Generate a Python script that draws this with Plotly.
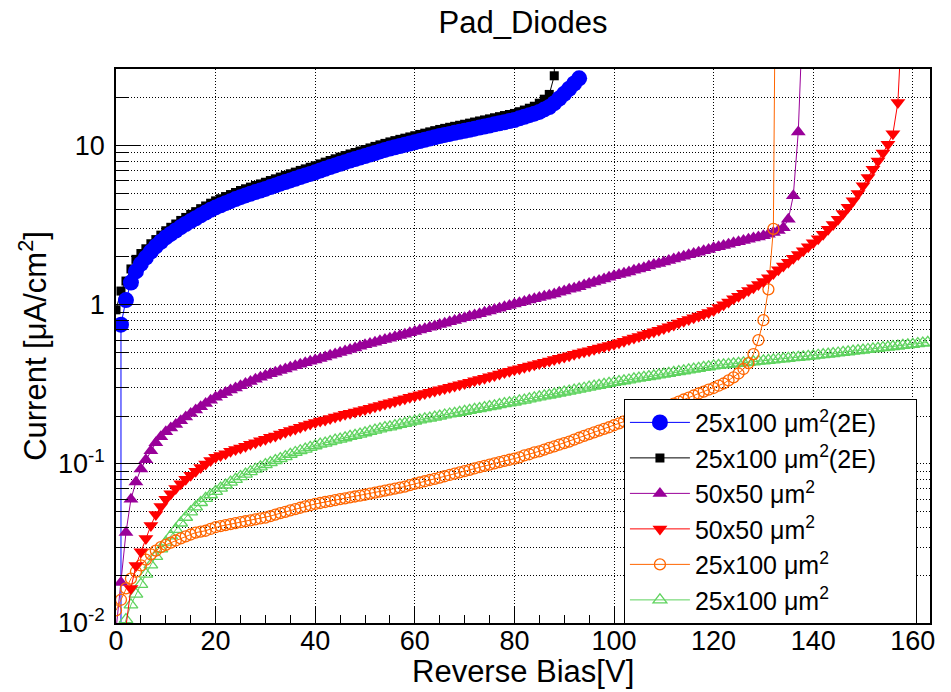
import plotly.graph_objects as go

# ---------------- data ----------------
bias_blue = [1] + list(range(1, 94))
cur_blue = [0.004,
    0.75, 1.07, 1.38, 1.62, 1.81, 1.98, 2.16, 2.33, 2.49, 2.65,
    2.79, 2.93, 3.08, 3.22, 3.36, 3.50, 3.65, 3.80, 3.95, 4.09,
    4.22, 4.35, 4.48, 4.62, 4.75, 4.87, 4.99, 5.11, 5.23, 5.35,
    5.49, 5.63, 5.77, 5.91, 6.05, 6.20, 6.35, 6.50, 6.65, 6.80,
    6.98, 7.16, 7.34, 7.52, 7.70, 7.88, 8.06, 8.24, 8.42, 8.60,
    8.80, 9.00, 9.20, 9.40, 9.60, 9.78, 9.96, 10.14, 10.32, 10.50,
    10.70, 10.90, 11.10, 11.30, 11.50, 11.68, 11.86, 12.04, 12.22, 12.40,
    12.60, 12.80, 13.00, 13.20, 13.40, 13.62, 13.84, 14.06, 14.28, 14.50,
    14.85, 15.20, 15.55, 15.90, 16.30, 16.90, 17.50, 18.50, 19.80, 21.20,
    22.80, 24.60, 26.50]

bias_black = list(range(0, 89)) + [88.3]
cur_black = [
    0.93, 1.22, 1.41, 1.68, 1.93, 2.10, 2.25, 2.42, 2.57, 2.74,
    2.92, 3.07, 3.22, 3.39, 3.54, 3.70, 3.85, 4.02, 4.18, 4.35,
    4.50, 4.64, 4.79, 4.93, 5.08, 5.23, 5.36, 5.49, 5.62, 5.75,
    5.89, 6.04, 6.19, 6.35, 6.50, 6.66, 6.82, 6.99, 7.15, 7.32,
    7.48, 7.68, 7.88, 8.07, 8.27, 8.47, 8.67, 8.87, 9.06, 9.26,
    9.46, 9.68, 9.90, 10.12, 10.34, 10.56, 10.76, 10.96, 11.15, 11.35,
    11.55, 11.77, 11.99, 12.21, 12.43, 12.65, 12.85, 13.05, 13.24, 13.44,
    13.64, 13.86, 14.08, 14.30, 14.52, 14.74, 14.98, 15.22, 15.47, 15.71,
    15.95, 16.35, 16.75, 17.20, 17.70, 18.50, 19.60, 21.00, 27.50,
    200.0]

bias_purple = list(range(0, 139))
cur_purple = [
    0.009, 0.018, 0.037, 0.060, 0.077, 0.093, 0.106, 0.121, 0.136, 0.148,
    0.159, 0.168, 0.177, 0.187, 0.197, 0.207, 0.218, 0.229, 0.240, 0.251,
    0.262, 0.272, 0.281, 0.291, 0.300, 0.310, 0.320, 0.330, 0.340, 0.350,
    0.360, 0.368, 0.377, 0.386, 0.395, 0.405, 0.414, 0.423, 0.432, 0.441,
    0.450, 0.460, 0.470, 0.481, 0.491, 0.502, 0.513, 0.524, 0.536, 0.548,
    0.560, 0.571, 0.582, 0.594, 0.605, 0.617, 0.629, 0.641, 0.654, 0.667,
    0.680, 0.694, 0.708, 0.722, 0.736, 0.751, 0.766, 0.782, 0.797, 0.813,
    0.830, 0.846, 0.863, 0.880, 0.898, 0.915, 0.934, 0.952, 0.971, 0.990,
    1.01, 1.03, 1.05, 1.07, 1.09, 1.11, 1.13, 1.15, 1.17, 1.20,
    1.22, 1.25, 1.27, 1.30, 1.33, 1.36, 1.39, 1.42, 1.45, 1.49,
    1.52, 1.55, 1.58, 1.61, 1.65, 1.68, 1.71, 1.75, 1.79, 1.82,
    1.86, 1.90, 1.94, 1.98, 2.02, 2.06, 2.10, 2.14, 2.19, 2.23,
    2.28, 2.32, 2.36, 2.40, 2.45, 2.49, 2.54, 2.58, 2.63, 2.67,
    2.72, 2.78, 2.85, 2.93, 3.05, 3.45, 4.85, 12.2, 80.0]

bias_red = list(range(2, 159))
cur_red = [
    0.0095, 0.0165, 0.023, 0.028, 0.034, 0.041, 0.048, 0.054, 0.060, 0.065,
    0.070, 0.075, 0.080, 0.085, 0.090, 0.095, 0.100, 0.105, 0.110, 0.113,
    0.116, 0.120, 0.123, 0.126, 0.129, 0.133, 0.136, 0.140, 0.143, 0.147,
    0.150, 0.154, 0.158, 0.162, 0.166, 0.170, 0.174, 0.178, 0.182, 0.186,
    0.189, 0.193, 0.197, 0.201, 0.205, 0.208, 0.212, 0.216, 0.220, 0.224,
    0.229, 0.233, 0.238, 0.242, 0.247, 0.252, 0.257, 0.262, 0.267, 0.272,
    0.277, 0.282, 0.287, 0.292, 0.298, 0.303, 0.309, 0.314, 0.320, 0.326,
    0.333, 0.339, 0.346, 0.353, 0.360, 0.367, 0.375, 0.382, 0.390, 0.397,
    0.405, 0.412, 0.420, 0.428, 0.436, 0.444, 0.453, 0.461, 0.470, 0.479,
    0.488, 0.497, 0.506, 0.515, 0.525, 0.535, 0.545, 0.555, 0.565, 0.578,
    0.591, 0.605, 0.619, 0.633, 0.648, 0.662, 0.678, 0.693, 0.710, 0.728,
    0.747, 0.767, 0.787, 0.807, 0.828, 0.850, 0.872, 0.895, 0.920, 0.96,
    1.00, 1.04, 1.09, 1.13, 1.18, 1.23, 1.28, 1.34, 1.40, 1.48,
    1.57, 1.66, 1.75, 1.85, 1.96, 2.07, 2.19, 2.32, 2.45, 2.60,
    2.78, 2.98, 3.20, 3.45, 3.75, 4.10, 4.50, 5.00, 5.60, 6.30,
    7.10, 8.00, 9.00, 10.2, 11.9, 18.7, 80.0]

bias_orange = list(range(0, 133)) + [132.5]
cur_orange = [
    0.012, 0.014, 0.0165, 0.019, 0.021, 0.023, 0.025, 0.027, 0.0285, 0.030,
    0.031, 0.032, 0.033, 0.034, 0.035, 0.036, 0.037, 0.0375, 0.038, 0.039,
    0.040, 0.0406, 0.0412, 0.0418, 0.0424, 0.043, 0.0436, 0.0442, 0.0448, 0.0454,
    0.046, 0.047, 0.048, 0.049, 0.050, 0.051, 0.052, 0.053, 0.054, 0.055,
    0.056, 0.0568, 0.0576, 0.0584, 0.0592, 0.060, 0.0608, 0.0616, 0.0624, 0.0632,
    0.064, 0.065, 0.066, 0.067, 0.068, 0.069, 0.070, 0.071, 0.072, 0.0735,
    0.075, 0.0764, 0.0778, 0.0792, 0.0806, 0.082, 0.0836, 0.0852, 0.0868, 0.0884,
    0.090, 0.0918, 0.0936, 0.0954, 0.0972, 0.099, 0.1008, 0.1026, 0.1044, 0.1062,
    0.108, 0.110, 0.113, 0.115, 0.118, 0.120, 0.123, 0.126, 0.129, 0.132,
    0.135, 0.138, 0.142, 0.146, 0.150, 0.154, 0.158, 0.162, 0.166, 0.170,
    0.175, 0.180, 0.185, 0.190, 0.195, 0.200, 0.205, 0.210, 0.215, 0.220,
    0.225, 0.232, 0.239, 0.246, 0.254, 0.261, 0.269, 0.277, 0.285, 0.293,
    0.300, 0.310, 0.320, 0.335, 0.350, 0.370, 0.395, 0.430, 0.490, 0.600,
    0.800, 1.25, 3.0,
    300.0]

bias_green = list(range(1, 164))
cur_green = [
    0.0075, 0.0105, 0.0130, 0.0152, 0.0175, 0.0203, 0.0232, 0.0262, 0.0292, 0.0322,
    0.0353, 0.0388, 0.0425, 0.0462, 0.0500, 0.0537, 0.0572, 0.0607, 0.0640, 0.0672,
    0.0705, 0.0737, 0.0769, 0.0800, 0.0832, 0.0863, 0.0895, 0.0926, 0.0958, 0.0990,
    0.102, 0.105, 0.108, 0.111, 0.115, 0.118, 0.121, 0.124, 0.127, 0.130,
    0.133, 0.135, 0.138, 0.141, 0.143, 0.146, 0.149, 0.151, 0.154, 0.157,
    0.160, 0.163, 0.166, 0.169, 0.171, 0.174, 0.177, 0.180, 0.183, 0.186,
    0.189, 0.192, 0.194, 0.197, 0.200, 0.203, 0.206, 0.208, 0.211, 0.214,
    0.217, 0.220, 0.223, 0.226, 0.229, 0.232, 0.236, 0.239, 0.242, 0.245,
    0.249, 0.252, 0.256, 0.260, 0.264, 0.268, 0.271, 0.275, 0.279, 0.283,
    0.287, 0.291, 0.295, 0.299, 0.304, 0.308, 0.312, 0.316, 0.321, 0.325,
    0.329, 0.333, 0.337, 0.342, 0.346, 0.350, 0.354, 0.358, 0.363, 0.367,
    0.371, 0.376, 0.380, 0.385, 0.390, 0.394, 0.399, 0.404, 0.408, 0.413,
    0.416, 0.419, 0.422, 0.426, 0.429, 0.432, 0.435, 0.438, 0.442, 0.445,
    0.448, 0.451, 0.455, 0.458, 0.461, 0.465, 0.468, 0.471, 0.475, 0.478,
    0.482, 0.486, 0.490, 0.494, 0.498, 0.503, 0.507, 0.511, 0.516, 0.520,
    0.524, 0.529, 0.533, 0.538, 0.542, 0.547, 0.551, 0.556, 0.560, 0.565,
    0.570, 0.575, 0.580]

x_ticks = [0, 20, 40, 60, 80, 100, 120, 140, 160]
y_ticks = [0.01, 0.1, 1, 10]
y_ticktext = ["10<sup>-2</sup>", "10<sup>-1</sup>", "1", "10"]
y_minor = [2e-2, 3e-2, 4e-2, 5e-2, 6e-2, 7e-2, 8e-2, 9e-2,
           0.2, 0.3, 0.4, 0.5, 0.6, 0.7, 0.8, 0.9,
           2, 3, 4, 5, 6, 7, 8, 9, 20, 30]

PAD = "\u00a0" * 5  # trailing room so the legend box is as wide as the original
lbl_2e = "25x100 \u03bcm<sup>2</sup>(2E)" + PAD
lbl_50 = "50x50 \u03bcm<sup>2</sup>"
lbl_25 = "25x100 \u03bcm<sup>2</sup>"

FONT = "Liberation Sans, Arial, Helvetica, sans-serif"
GRID_DASH = "1px,2px"

fig = go.Figure()

def add(x, y, name, color, symbol, size, rank, open_=False):
    fig.add_trace(go.Scatter(
        x=x, y=y, name=name, mode="lines+markers", legendrank=rank,
        line=dict(color=color, width=1),
        marker=dict(symbol=symbol, size=size, color=color,
                    line=dict(width=1.3 if open_ else 0, color=color)),
    ))

# drawing order (later = on top); legend order via legendrank
add(bias_black, cur_black, lbl_2e, "#000000", "square", 9, 2)
add(bias_blue, cur_blue, lbl_2e, "#0000ff", "circle", 16, 1)
add(bias_purple, cur_purple, lbl_50, "#990099", "triangle-up", 13, 3)
add(bias_green, cur_green, lbl_25, "#5fd35f", "triangle-up-open", 12, 6, True)
add(bias_orange, cur_orange, lbl_25, "#ff6600", "circle-open", 11, 5, True)
add(bias_red, cur_red, lbl_50, "#ff0000", "triangle-down", 13, 4)

axis_common = dict(
    showline=True, linecolor="black", linewidth=1.5, mirror=True,
    ticks="inside", tickcolor="black", tickwidth=1,
    showgrid=True, gridcolor="black", gridwidth=1, griddash=GRID_DASH,
    zeroline=False, automargin=False,
    tickfont=dict(size=27, color="black", family=FONT),
)

fig.update_layout(
    width=951, height=692,
    margin=dict(l=116, r=21, t=69, b=69),
    paper_bgcolor="white", plot_bgcolor="white",
    font=dict(family=FONT, color="black"),
    title=dict(text="Pad_Diodes", x=0.5, xref="paper", xanchor="center",
               y=1 - 22 / 692, yref="container", yanchor="middle",
               font=dict(size=31, family=FONT, color="black")),
    xaxis=dict(
        **axis_common, range=[0, 163.45], tickmode="array", tickvals=x_ticks,
        ticklen=16, ticklabelstandoff=-7,
        minor=dict(tickmode="linear", tick0=0, dtick=5, ticks="inside",
                   ticklen=8, tickcolor="black", showgrid=False),
    ),
    yaxis=dict(
        **axis_common, type="log", range=[-2, 1.482], tickmode="array",
        tickvals=y_ticks, ticktext=y_ticktext, ticklen=24,
        ticklabelstandoff=4,
        minor=dict(tickmode="array", tickvals=y_minor, ticks="inside",
                   ticklen=12, tickcolor="black", showgrid=True,
                   gridcolor="black", gridwidth=1, griddash=GRID_DASH),
        title=dict(text="Current [\u03bcA/cm<sup>2</sup>]",
                   font=dict(size=31, family=FONT), standoff=2),
    ),
    legend=dict(
        x=0.624, y=0.405, xanchor="left", yanchor="top",
        bgcolor="white", bordercolor="black", borderwidth=1,
        font=dict(size=25, family=FONT, color="black"),
        itemwidth=60, traceorder="normal",
    ),
    annotations=[dict(
        text="Reverse Bias[V]", xref="paper", yref="paper",
        x=0.5, y=-(671 - 623) / 554, xanchor="center", yanchor="middle",
        showarrow=False, font=dict(size=31, family=FONT, color="black"),
    )],
)

fig.write_html("out.html")
